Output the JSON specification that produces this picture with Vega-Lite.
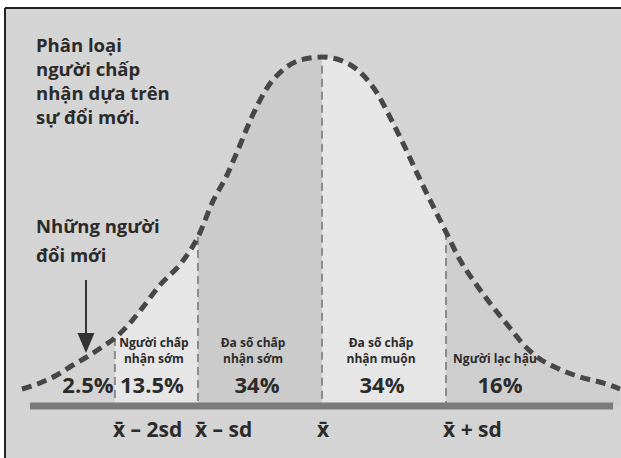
{
  "$schema": "https://vega.github.io/schema/vega-lite/v6.json",
  "width": 616,
  "height": 450,
  "autosize": {"type": "none"},
  "padding": {"left": 5, "top": 8, "right": 0, "bottom": 0},
  "background": "#ffffff",
  "config": {"view": {"stroke": null, "fill": "#d4d4d4"}, "axis": {"disable": true}},
  "datasets": {
    "curve": [
      {"z": -2.419, "density": 0.0195},
      {"z": -2.274, "density": 0.0264},
      {"z": -2.137, "density": 0.0355},
      {"z": -2.008, "density": 0.047},
      {"z": -1.895, "density": 0.0562},
      {"z": -1.774, "density": 0.0676},
      {"z": -1.67, "density": 0.0779},
      {"z": -1.548, "density": 0.0951},
      {"z": -1.468, "density": 0.1089},
      {"z": -1.306, "density": 0.1387},
      {"z": -1.129, "density": 0.165},
      {"z": -1.0, "density": 0.1937},
      {"z": -0.879, "density": 0.2349},
      {"z": -0.766, "density": 0.2647},
      {"z": -0.702, "density": 0.2854},
      {"z": -0.54, "density": 0.3392},
      {"z": -0.444, "density": 0.3644},
      {"z": -0.315, "density": 0.3851},
      {"z": -0.177, "density": 0.3965},
      {"z": 0.0, "density": 0.4},
      {"z": 0.145, "density": 0.3965},
      {"z": 0.331, "density": 0.3793},
      {"z": 0.444, "density": 0.3587},
      {"z": 0.548, "density": 0.3312},
      {"z": 0.653, "density": 0.3014},
      {"z": 0.766, "density": 0.267},
      {"z": 0.871, "density": 0.2361},
      {"z": 1.0, "density": 0.1994},
      {"z": 1.113, "density": 0.1673},
      {"z": 1.258, "density": 0.1364},
      {"z": 1.411, "density": 0.1077},
      {"z": 1.516, "density": 0.0894},
      {"z": 1.613, "density": 0.0722},
      {"z": 1.734, "density": 0.0562},
      {"z": 1.895, "density": 0.0435},
      {"z": 2.081, "density": 0.0332},
      {"z": 2.266, "density": 0.0264},
      {"z": 2.403, "density": 0.0195}
    ],
    "cuts": [
      {"z": -1.67, "top": 0.0779},
      {"z": -1.0, "top": 0.1937},
      {"z": 0.0, "top": 0.39},
      {"z": 1.0, "top": 0.1994}
    ],
    "groups": [
      {"name": "Người chấp\nnhận sớm", "z": -1.355, "y": 0.0676},
      {"name": "Đa số chấp\nnhận sớm", "z": -0.556, "y": 0.0676},
      {"name": "Đa số chấp\nnhận muộn", "z": 0.476, "y": 0.0676},
      {"name": "Người lạc hậu", "z": 1.395, "y": 0.0493}
    ],
    "shares": [
      {"pct": "2.5%", "z": -1.887},
      {"pct": "13.5%", "z": -1.371},
      {"pct": "34%", "z": -0.524},
      {"pct": "34%", "z": 0.484},
      {"pct": "16%", "z": 1.435}
    ],
    "ticks": [
      {"label": "x̄ – 2sd", "z": -1.685},
      {"label": "x̄ – sd", "z": -1.024},
      {"label": "x̄", "z": -0.04},
      {"label": "x̄ + sd", "z": 0.976}
    ],
    "notes": [
      {"text": "Phân loại\nngười chấp\nnhận dựa trên\nsự đổi mới.", "z": -2.306, "y": 0.4057, "kind": "title"},
      {"text": "Những người\nđổi mới", "z": -2.306, "y": 0.1983, "kind": "pointer"}
    ]
  },
  "layer": [
    {
      "data": {"name": "curve"},
      "transform": [{"filter": {"field": "z", "range": [-1.67, -1.0]}}],
      "mark": {"type": "area", "color": "#e6e6e6", "interpolate": "monotone"},
      "encoding": {
        "x": {"field": "z", "type": "quantitative", "scale": {"domain": [-2.556, 2.411], "nice": false, "zero": false}, "axis": null},
        "y": {"field": "density", "type": "quantitative", "scale": {"domain": [-0.0596, 0.4562], "nice": false, "zero": false}, "axis": null},
        "y2": {"datum": 0}
      }
    },
    {
      "data": {"name": "curve"},
      "transform": [{"filter": {"field": "z", "range": [-1.0, 0.0]}}],
      "mark": {"type": "area", "color": "#cbcbcb", "interpolate": "monotone"},
      "encoding": {
        "x": {"field": "z", "type": "quantitative", "axis": null},
        "y": {"field": "density", "type": "quantitative", "axis": null},
        "y2": {"datum": 0}
      }
    },
    {
      "data": {"name": "curve"},
      "transform": [{"filter": {"field": "z", "range": [0.0, 1.0]}}],
      "mark": {"type": "area", "color": "#e6e6e6", "interpolate": "monotone"},
      "encoding": {
        "x": {"field": "z", "type": "quantitative", "axis": null},
        "y": {"field": "density", "type": "quantitative", "axis": null},
        "y2": {"datum": 0}
      }
    },
    {
      "data": {"name": "curve"},
      "transform": [{"filter": {"field": "z", "range": [1.0, 2.5]}}],
      "mark": {"type": "area", "color": "#cecece", "interpolate": "monotone"},
      "encoding": {
        "x": {"field": "z", "type": "quantitative", "axis": null},
        "y": {"field": "density", "type": "quantitative", "axis": null},
        "y2": {"datum": 0}
      }
    },
    {
      "data": {"name": "cuts"},
      "mark": {"type": "rule", "color": "#8c8c8c", "strokeWidth": 2, "strokeDash": [8, 5]},
      "encoding": {
        "x": {"field": "z", "type": "quantitative", "axis": null},
        "y": {"field": "top", "type": "quantitative", "axis": null},
        "y2": {"datum": 0}
      }
    },
    {
      "data": {"name": "curve"},
      "mark": {"type": "line", "color": "#474747", "strokeWidth": 5, "strokeDash": [10, 6], "interpolate": "monotone"},
      "encoding": {
        "x": {"field": "z", "type": "quantitative", "axis": null},
        "y": {"field": "density", "type": "quantitative", "axis": null}
      }
    },
    {
      "data": {"values": [{"from": -2.355, "to": 2.347, "level": 0}]},
      "mark": {"type": "rule", "color": "#7b7b7b", "strokeWidth": 7},
      "encoding": {
        "x": {"field": "from", "type": "quantitative", "axis": null},
        "x2": {"field": "to"},
        "y": {"field": "level", "type": "quantitative", "axis": null}
      }
    },
    {
      "data": {"values": [{"from": -2.556, "to": 2.411, "level": 0.4562}]},
      "mark": {"type": "rule", "color": "#222222", "strokeWidth": 2},
      "encoding": {
        "x": {"field": "from", "type": "quantitative", "axis": null},
        "x2": {"field": "to"},
        "y": {"field": "level", "type": "quantitative", "axis": null}
      }
    },
    {
      "data": {"values": [{"at": -2.556, "low": -0.0596, "high": 0.4562}]},
      "mark": {"type": "rule", "color": "#222222", "strokeWidth": 2},
      "encoding": {
        "x": {"field": "at", "type": "quantitative", "axis": null},
        "y": {"field": "low", "type": "quantitative", "axis": null},
        "y2": {"field": "high"}
      }
    },
    {
      "data": {"values": [{"at": -1.903, "start": 0.1444, "end": 0.0756}]},
      "mark": {"type": "rule", "color": "#333333", "strokeWidth": 2},
      "encoding": {
        "x": {"field": "at", "type": "quantitative", "axis": null},
        "y": {"field": "start", "type": "quantitative", "axis": null},
        "y2": {"field": "end"}
      }
    },
    {
      "data": {"values": [{"at": -1.903, "head": 0.0722}]},
      "mark": {"type": "point", "shape": "M-0.85,-1L0.85,-1L0,1Z", "size": 400, "filled": true, "color": "#333333", "opacity": 1},
      "encoding": {
        "x": {"field": "at", "type": "quantitative", "axis": null},
        "y": {"field": "head", "type": "quantitative", "axis": null}
      }
    },
    {
      "data": {"name": "notes"},
      "transform": [{"filter": {"field": "kind", "equal": "title"}}],
      "mark": {"type": "text", "align": "left", "baseline": "alphabetic", "font": "Open Sans", "fontWeight": "bold", "fontSize": 18.5, "lineHeight": 24, "lineBreak": "\n", "color": "#2b2b2b"},
      "encoding": {
        "x": {"field": "z", "type": "quantitative", "axis": null},
        "y": {"field": "y", "type": "quantitative", "axis": null},
        "text": {"field": "text"}
      }
    },
    {
      "data": {"name": "notes"},
      "transform": [{"filter": {"field": "kind", "equal": "pointer"}}],
      "mark": {"type": "text", "align": "left", "baseline": "alphabetic", "font": "Open Sans", "fontWeight": "bold", "fontSize": 18.5, "lineHeight": 29, "lineBreak": "\n", "color": "#2b2b2b"},
      "encoding": {
        "x": {"field": "z", "type": "quantitative", "axis": null},
        "y": {"field": "y", "type": "quantitative", "axis": null},
        "text": {"field": "text"}
      }
    },
    {
      "data": {"name": "groups"},
      "mark": {"type": "text", "align": "center", "baseline": "alphabetic", "font": "Open Sans", "fontWeight": "bold", "fontSize": 12, "lineHeight": 16, "lineBreak": "\n", "color": "#2b2b2b"},
      "encoding": {
        "x": {"field": "z", "type": "quantitative", "axis": null},
        "y": {"field": "y", "type": "quantitative", "axis": null},
        "text": {"field": "name"}
      }
    },
    {
      "data": {"name": "shares"},
      "mark": {"type": "text", "align": "center", "baseline": "alphabetic", "font": "Open Sans", "fontWeight": "bold", "fontSize": 22, "color": "#2b2b2b"},
      "encoding": {
        "x": {"field": "z", "type": "quantitative", "axis": null},
        "y": {"datum": 0.0149},
        "text": {"field": "pct"}
      }
    },
    {
      "data": {"name": "ticks"},
      "mark": {"type": "text", "align": "left", "baseline": "alphabetic", "font": "Open Sans", "fontWeight": "bold", "fontSize": 21, "color": "#2b2b2b"},
      "encoding": {
        "x": {"field": "z", "type": "quantitative", "axis": null},
        "y": {"datum": -0.0355},
        "text": {"field": "label"}
      }
    }
  ]
}
